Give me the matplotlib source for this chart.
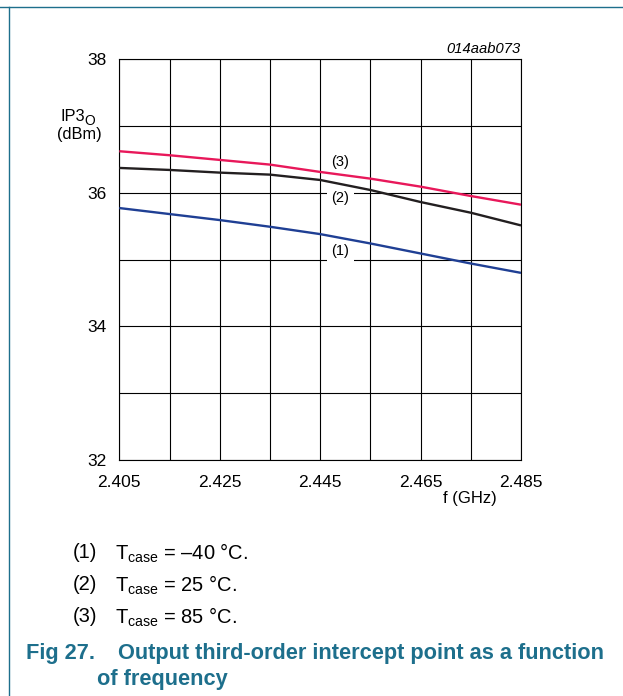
import matplotlib
matplotlib.use("Agg")
import matplotlib.pyplot as plt
from matplotlib.lines import Line2D

W, H = 623, 696
DPI = 100

# Data: output third-order intercept point vs frequency
freq_ghz = [2.405, 2.415, 2.425, 2.435, 2.445, 2.455, 2.465, 2.475, 2.485]
ip3_tm40 = [35.77, 35.68, 35.59, 35.49, 35.38, 35.24, 35.09, 34.94, 34.80]
ip3_t25 = [36.37, 36.34, 36.30, 36.27, 36.19, 36.04, 35.86, 35.70, 35.51]
ip3_t85 = [36.62, 36.56, 36.49, 36.42, 36.31, 36.21, 36.09, 35.95, 35.82]

x_ticks = [2.405, 2.415, 2.425, 2.435, 2.445, 2.455, 2.465, 2.475, 2.485]
x_labels = ["2.405", "", "2.425", "", "2.445", "", "2.465", "", "2.485"]
y_ticks = [32, 33, 34, 35, 36, 37, 38]
y_labels = ["32", "", "34", "", "36", "", "38"]

curve_tags = ["(1)", "(2)", "(3)"]
notes = ["\u201340 \u00b0C.", "25 \u00b0C.", "85 \u00b0C."]

BASE = "Liberation Sans"
TEAL = "#1d6f8c"

plt.rcParams["font.family"] = [BASE, "DejaVu Sans"]
plt.rcParams["mathtext.fontset"] = "custom"
plt.rcParams["mathtext.rm"] = BASE
plt.rcParams["mathtext.it"] = BASE + ":italic"
plt.rcParams["mathtext.bf"] = BASE + ":bold"

fig = plt.figure(figsize=(W / DPI, H / DPI), dpi=DPI)
fig.patch.set_facecolor("white")


def fx(px):
    return px / W


def fy(py):
    return 1 - py / H


ax = fig.add_axes([fx(119.3), fy(460), fx(521) - fx(119.3), fy(59) - fy(460)])

ax.plot(freq_ghz, ip3_tm40, color="#1f3f94", lw=1.7, zorder=4, solid_capstyle="butt")
ax.plot(freq_ghz, ip3_t25, color="#231f20", lw=1.7, zorder=4, solid_capstyle="butt")
ax.plot(freq_ghz, ip3_t85, color="#e8185a", lw=1.7, zorder=4, solid_capstyle="butt")

ax.set_xlim(2.405, 2.485)
ax.set_ylim(32, 38)
ax.set_xticks(x_ticks)
ax.set_xticklabels(x_labels)
ax.set_yticks(y_ticks)
ax.set_yticklabels(y_labels)
ax.tick_params(length=0, labelsize=12.5)
ax.tick_params(axis="y", pad=9)
ax.tick_params(axis="x", pad=11)
ax.grid(True, color="black", lw=0.8)
ax.set_axisbelow(True)
for s in ax.spines.values():
    s.set_linewidth(0.8)
    s.set_color("black")

# curve tags
tag_pos = [(2.449, 35.13, True), (2.449, 35.92, True), (2.449, 36.46, False)]
for tag, (tx, ty, boxed) in zip(curve_tags, tag_pos):
    kw = dict(ha="center", va="center", fontsize=10.5, zorder=3)
    if boxed:
        kw["bbox"] = dict(boxstyle="square,pad=0.3", fc="white", ec="none")
    ax.text(tx, ty, tag, **kw)

# axis titles
fig.text(fx(60), fy(116.5), "IP3", fontsize=11.8, ha="left", va="center")
fig.text(fx(84.5), fy(121), "O", fontsize=10, ha="left", va="center")
fig.text(fx(79.5), fy(134), "(dBm)", fontsize=11.8, ha="center", va="center")
fig.text(fx(470), fy(499), "f (GHz)", fontsize=12, ha="center", va="center")
fig.text(fx(521), fy(49), "014aab073", fontsize=10.6, style="italic",
         ha="right", va="center")

# notes
for i, (tag, note) in enumerate(zip(curve_tags, notes)):
    yy = 553 + i * 32
    fig.text(fx(73), fy(yy), tag, fontsize=14.5, ha="left", va="center")
    fig.text(fx(115), fy(yy), r"T$_{\mathrm{case}}$ = " + note,
             fontsize=14.5, ha="left", va="center")

# caption
cap = dict(fontsize=15.7, weight="bold", color=TEAL, ha="left", va="center")
fig.text(fx(26), fy(654), "Fig 27.", **cap)
fig.text(fx(118), fy(654), "Output third-order intercept point as a function", **cap)
fig.text(fx(97), fy(679), "of frequency", **cap)

# page rules
fig.add_artist(Line2D([0, 1], [fy(7), fy(7)], transform=fig.transFigure,
                      color=TEAL, lw=1.0))
fig.add_artist(Line2D([fx(9.3), fx(9.3)], [fy(7), 0], transform=fig.transFigure,
                      color=TEAL, lw=1.0))

fig.savefig("out.png", dpi=DPI, facecolor="white")
